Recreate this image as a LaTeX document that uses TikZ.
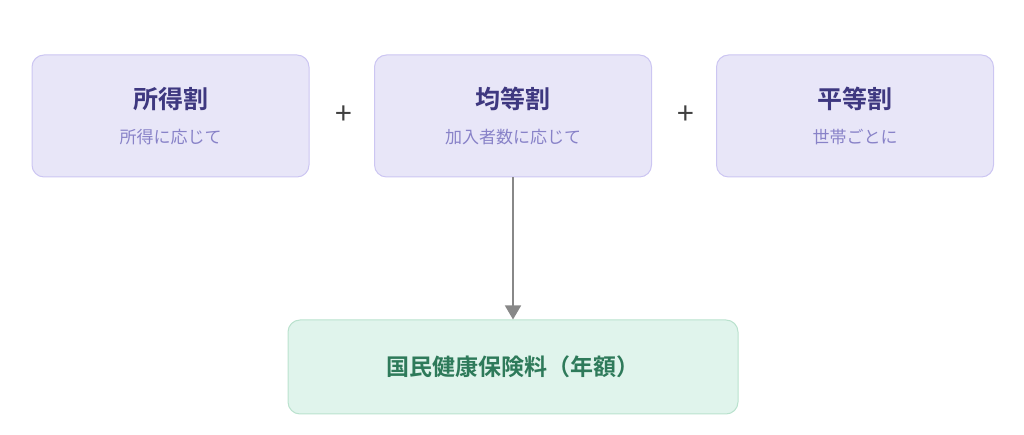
\documentclass[tikz,border=0pt]{standalone}
\usepackage{fontspec}
\usepackage{xcolor}
\usepackage{tikz}
\usetikzlibrary{arrows.meta,positioning}
\newfontfamily\jpfont{Noto Sans CJK JP}
\newfontfamily\jpbold{Noto Sans CJK JP Bold}
\definecolor{boxfill}{RGB}{232,230,248}
\definecolor{boxline}{RGB}{204,198,242}
\definecolor{titlepurple}{RGB}{62,56,128}
\definecolor{subpurple}{RGB}{136,130,200}
\definecolor{resfill}{RGB}{224,244,236}
\definecolor{resline}{RGB}{186,226,206}
\definecolor{resgreen}{RGB}{46,122,90}
\definecolor{arrowgrey}{RGB}{136,136,136}
\newcommand{\parttext}[2]{{\jpbold\fontsize{25pt}{27pt}\selectfont\color{titlepurple}#1}\\[18pt]{\jpfont\fontsize{17pt}{19pt}\selectfont\color{subpurple}#2}}

\begin{document}
\begin{tikzpicture}[x=1pt, y=1pt,
    part/.style={draw=boxline, line width=1pt, rounded corners=12pt, fill=boxfill, minimum width=277pt, minimum height=122pt, align=center, inner sep=0pt},
    result/.style={draw=resline, line width=1pt, rounded corners=12pt, fill=resfill, minimum width=450pt, minimum height=94pt, align=center, font=\jpbold\fontsize{23pt}{25pt}\selectfont, text=resgreen},
    plus/.style={font=\jpfont\fontsize{30pt}{32pt}\selectfont, text=black!75},
    arr/.style={-{Triangle[width=16pt,length=14pt]}, line width=1.5pt, draw=arrowgrey}
]
\useasboundingbox (0,0) rectangle (1024,435);

\node[part] (income) at (170.5,319) {\parttext{所得割}{所得に応じて}};
\node[part] (percap) at (513,319) {\parttext{均等割}{加入者数に応じて}};
\node[part] (household) at (855,319) {\parttext{平等割}{世帯ごとに}};

\node[plus] (plusa) at (344,320) {+};
\node[plus] (plusb) at (686,320) {+};

\node[result] (premium) at (513,68) {国民健康保険料（年額）};
\draw[arr] (percap.south) -- (premium.north);
\end{tikzpicture}
\end{document}
